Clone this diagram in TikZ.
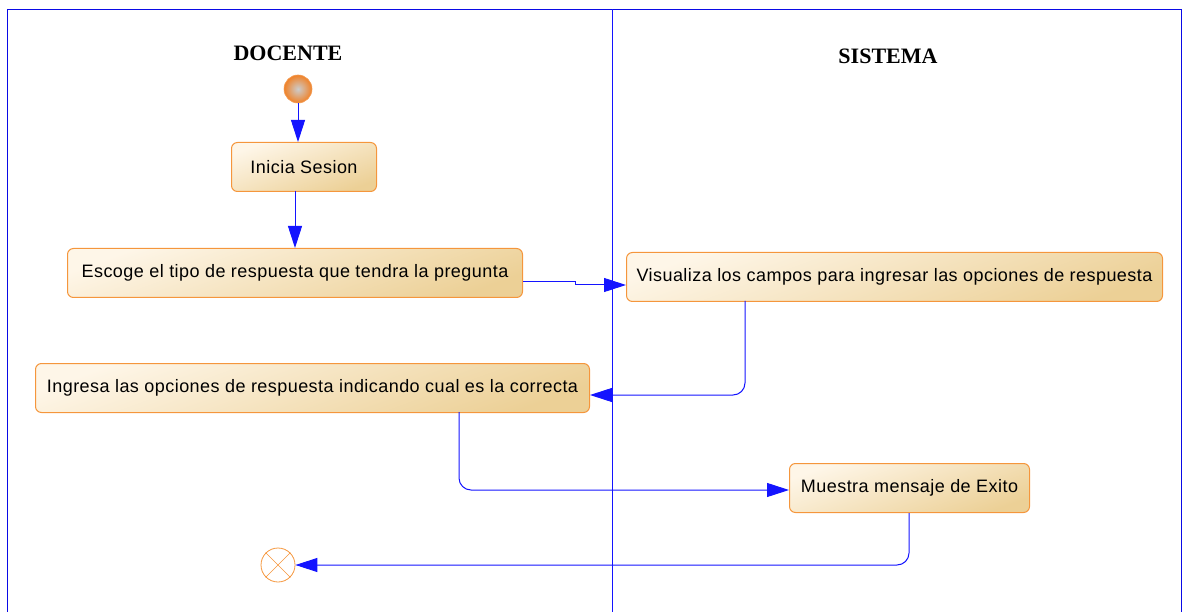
\documentclass[tikz,border=0pt]{standalone}
\usepackage{fontspec}
\setmainfont{Liberation Sans}[LetterSpace=2.5]
\newfontfamily\titlefont{Liberation Serif}
\usetikzlibrary{arrows.meta,positioning}
\definecolor{frameblue}{RGB}{10,10,230}
\definecolor{lineblue}{RGB}{20,20,255}
\definecolor{boxtop}{RGB}{254,246,232}
\definecolor{boxbot}{RGB}{236,208,150}
\definecolor{boxedge}{RGB}{245,150,60}
\definecolor{startor}{RGB}{240,130,40}
\tikzset{
  act/.style={draw=boxedge, line width=1pt, rounded corners=6pt,
    top color=boxtop, bottom color=boxbot, shading angle=20,
    minimum height=49pt, inner xsep=6pt, font=\fontsize{18}{20}\selectfont, anchor=north west},
  flow/.style={draw=lineblue, line width=1pt, rounded corners=12pt,
    -{Triangle[length=22pt,width=14pt]}},
  title/.style={font=\titlefont\bfseries\fontsize{22}{24}\selectfont},
}
\begin{document}
\begin{tikzpicture}[x=1pt,y=-1pt]
\useasboundingbox (0,0) rectangle (1183,612);
% frame
\draw[frameblue, line width=1.3pt] (7.5,612) -- (7.5,9.5) -- (1181.5,9.5) -- (1181.5,612);
\draw[lineblue, line width=0.8pt] (612,9.5) -- (612,612);
% titles
\node[title] (tdoc) at (288,53) {DOCENTE};
\node[title] (tsis) at (888,56) {SISTEMA};
% start
\shade[inner color=gray!40, outer color=startor, draw=startor!80, line width=0.6pt] (298,89) circle (14);
\coordinate (start) at (298,103);
% activities
\node[act, minimum width=145pt] (a1) at (231,142) {Inicia Sesion};
\node[act, minimum width=455pt] (a2) at (67,248) {Escoge el tipo de respuesta que tendra la pregunta};
\node[act, minimum width=536pt] (a3) at (626,252) {Visualiza los campos para ingresar las opciones de respuesta};
\node[act, minimum width=554pt] (a4) at (35,363) {Ingresa las opciones de respuesta indicando cual es la correcta};
\node[act, minimum width=240pt] (a5) at (789,463) {Muestra mensaje de Exito};
% end
\node[circle, draw=boxedge, line width=0.8pt, minimum size=34pt, inner sep=0pt] (fin) at (278,565) {};
\draw[boxedge, line width=0.6pt] (fin.45) -- (fin.225) (fin.135) -- (fin.315);
% flows
\draw[flow] (start) -- (start |- a1.north);
\draw[flow] (295,191) -- (295,248);
\draw[flow, rounded corners=0pt] (a2.east |- 0,282) -- (575,282) -- (575,285) -- (a3.west |- 0,285);
\draw[flow] (745,301) -- (745,395) -- (a4.east |- 0,395);
\draw[flow] (459,412) -- (459,490) -- (a5.west |- 0,490);
\draw[flow] (909,513) -- (909,565) -- (fin.east);
\end{tikzpicture}
\end{document}
